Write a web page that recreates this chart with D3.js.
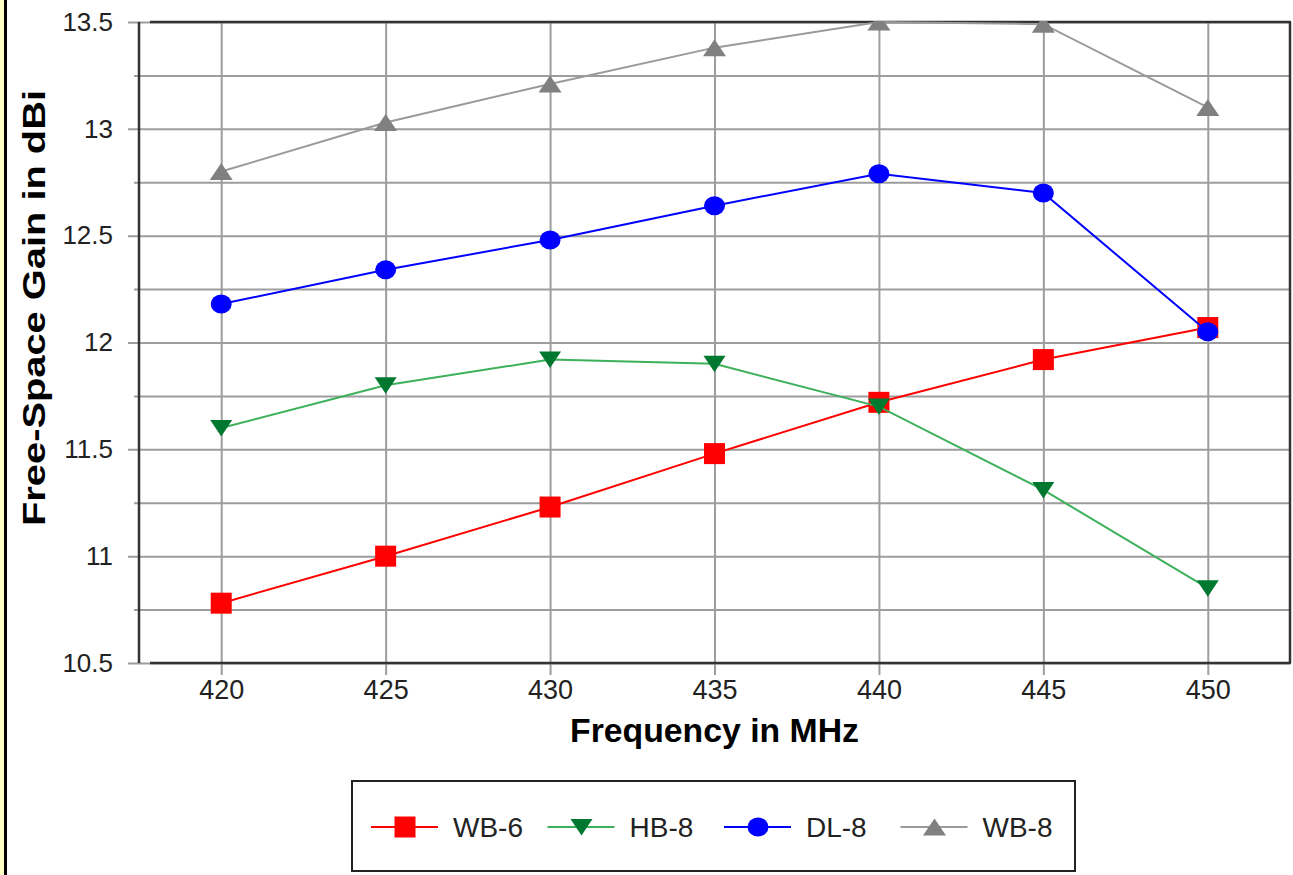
<!DOCTYPE html>
<html>
<head>
<meta charset="utf-8">
<script src="https://cdn.jsdelivr.net/npm/d3@7"></script>
<style>
  body { margin: 0; background: #ffffff; }
  svg { display: block; }
  text { font-family: "Liberation Sans", Arial, sans-serif; }
</style>
</head>
<body>
<script>
let width = 1293
let height = 875

// data
let freqs = [420, 425, 430, 435, 440, 445, 450]
let wb6 = [10.78, 11.00, 11.23, 11.48, 11.72, 11.92, 12.07]
let hb8 = [11.60, 11.80, 11.92, 11.90, 11.70, 11.31, 10.85]
let dl8 = [12.18, 12.34, 12.48, 12.64, 12.79, 12.70, 12.05]
let wb8 = [12.80, 13.03, 13.21, 13.38, 13.50, 13.49, 13.10]

let seriesNames = ["WB-6", "HB-8", "DL-8", "WB-8"]
let yMajor = [10.5, 11, 11.5, 12, 12.5, 13, 13.5]
let yMinor = [10.75, 11.25, 11.75, 12.25, 12.75, 13.25]
let xTicks = [420, 425, 430, 435, 440, 445, 450]

let pLeft = 139, pRight = 1290, pTop = 22, pBottom = 663

let series = [
  { name: seriesNames[0], values: wb6, line: "#ff0000", fill: "#ff0000", shape: "square" },
  { name: seriesNames[1], values: hb8, line: "#3cb05a", fill: "#00782f", shape: "down" },
  { name: seriesNames[2], values: dl8, line: "#0000ff", fill: "#0000ff", shape: "circle" },
  { name: seriesNames[3], values: wb8, line: "#9a9a9a", fill: "#808080", shape: "up" }
]

let x = d3.scaleLinear().domain([417.5, 452.5]).range([pLeft, pRight])
let y = d3.scaleLinear().domain([10.5, 13.5]).range([pBottom, pTop])

let svg = d3.select("body")
  .append("svg")
  .attr("width", width)
  .attr("height", height)

// yellow strip on the left edge
svg.append("rect").attr("x", 0).attr("y", 0).attr("width", 4).attr("height", height).attr("fill", "#ffffc4")
svg.append("rect").attr("x", 4).attr("y", 0).attr("width", 3).attr("height", height).attr("fill", "#000000")

// minor horizontal grid
svg.append("g")
  .attr("transform", "translate(" + pRight + ",0)")
  .call(d3.axisLeft(y).tickValues(yMinor).tickSize(pRight - 134).tickFormat(""))
  .call(g => g.select(".domain").remove())
  .call(g => g.selectAll("line").attr("stroke", "#9d9d9d").attr("stroke-width", 2))

// major horizontal grid + labels
svg.append("g")
  .attr("transform", "translate(" + pRight + ",0)")
  .call(d3.axisLeft(y).tickValues(yMajor).tickSize(pRight - 128).tickPadding(15).tickFormat(d3.format("")))
  .call(g => g.select(".domain").remove())
  .call(g => g.selectAll("line").attr("stroke", "#9d9d9d").attr("stroke-width", 2))
  .call(g => g.selectAll("text").attr("font-size", 26).attr("fill", "#222").attr("font-family", "Liberation Sans, Arial, sans-serif"))

// vertical grid + labels
svg.append("g")
  .attr("transform", "translate(0," + pTop + ")")
  .call(d3.axisBottom(x).tickValues(xTicks).tickSize(675 - pTop).tickPadding(5))
  .call(g => g.select(".domain").remove())
  .call(g => g.selectAll("line").attr("stroke", "#9d9d9d").attr("stroke-width", 2))
  .call(g => g.selectAll("text").attr("font-size", 27).attr("fill", "#222").attr("font-family", "Liberation Sans, Arial, sans-serif"))

// frame
let frame = svg.append("g").attr("stroke", "#333").attr("stroke-width", 2.5)
frame.append("line").attr("x1", pLeft).attr("x2", pLeft).attr("y1", pTop).attr("y2", pBottom)
frame.append("line").attr("x1", 150).attr("x2", pRight + 1).attr("y1", pTop).attr("y2", pTop)
frame.append("line").attr("x1", 150).attr("x2", pRight + 1).attr("y1", pBottom).attr("y2", pBottom)
frame.append("line").attr("x1", pRight).attr("x2", pRight).attr("y1", pTop).attr("y2", pBottom)

svg.append("clipPath").attr("id", "plot")
  .append("rect").attr("x", pLeft).attr("y", pTop - 1).attr("width", pRight - pLeft).attr("height", pBottom - pTop + 1)

function marker(sel, shape, fill) {
  if (shape === "square") {
    sel.append("rect").attr("x", -10.5).attr("y", -10.5).attr("width", 21).attr("height", 21).attr("fill", fill)
  } else if (shape === "circle") {
    sel.append("ellipse").attr("rx", 10.5).attr("ry", 9.5).attr("fill", fill)
  } else if (shape === "down") {
    sel.append("path").attr("d", "M-11,-8L11,-8L0,8.5Z").attr("fill", fill)
  } else {
    sel.append("path").attr("d", "M0,-8.5L11.5,8.5L-11.5,8.5Z").attr("fill", fill)
  }
}

let line = d3.line().x(d => x(d[0])).y(d => y(d[1]))

let plot = svg.append("g").attr("clip-path", "url(#plot)")

series.forEach(s => {
  let pts = freqs.map((f, i) => [f, s.values[i]])
  let g = plot.append("g")
  g.append("path")
    .attr("d", line(pts))
    .attr("fill", "none")
    .attr("stroke", s.line)
    .attr("stroke-width", 2)
  g.selectAll("g.pt")
    .data(pts)
    .join("g")
    .attr("class", "pt")
    .attr("transform", d => "translate(" + x(d[0]) + "," + y(d[1]) + ")")
    .each(function () { marker(d3.select(this), s.shape, s.fill) })
})

// axis titles
svg.append("text")
  .attr("x", (pLeft + pRight) / 2)
  .attr("y", 742)
  .attr("text-anchor", "middle")
  .attr("font-size", 33)
  .attr("font-weight", "bold")
  .attr("fill", "#000")
  .attr("textLength", 289)
  .attr("lengthAdjust", "spacingAndGlyphs")
  .text("Frequency in MHz")

svg.append("text")
  .attr("transform", "translate(45,308) rotate(-90)")
  .attr("text-anchor", "middle")
  .attr("font-size", 32)
  .attr("font-weight", "bold")
  .attr("fill", "#000")
  .attr("textLength", 436)
  .attr("lengthAdjust", "spacingAndGlyphs")
  .text("Free-Space Gain in dBi")

// legend
svg.append("rect")
  .attr("x", 352).attr("y", 781).attr("width", 723).attr("height", 90)
  .attr("fill", "none").attr("stroke", "#222").attr("stroke-width", 2)

let legend = svg.append("g")
  .selectAll("g")
  .data(series)
  .join("g")
  .attr("transform", (d, i) => "translate(" + (371 + i * 176.5) + ",827)")

legend.append("line")
  .attr("x1", 0).attr("x2", 67)
  .attr("stroke", d => d.line).attr("stroke-width", 2)
legend.each(function (d) {
  let m = d3.select(this).append("g").attr("transform", "translate(34,0)")
  marker(m, d.shape, d.fill)
})
legend.append("text")
  .attr("x", 82)
  .attr("dy", "0.36em")
  .attr("font-size", 28)
  .attr("fill", "#222")
  .text(d => d.name)
</script>
</body>
</html>
